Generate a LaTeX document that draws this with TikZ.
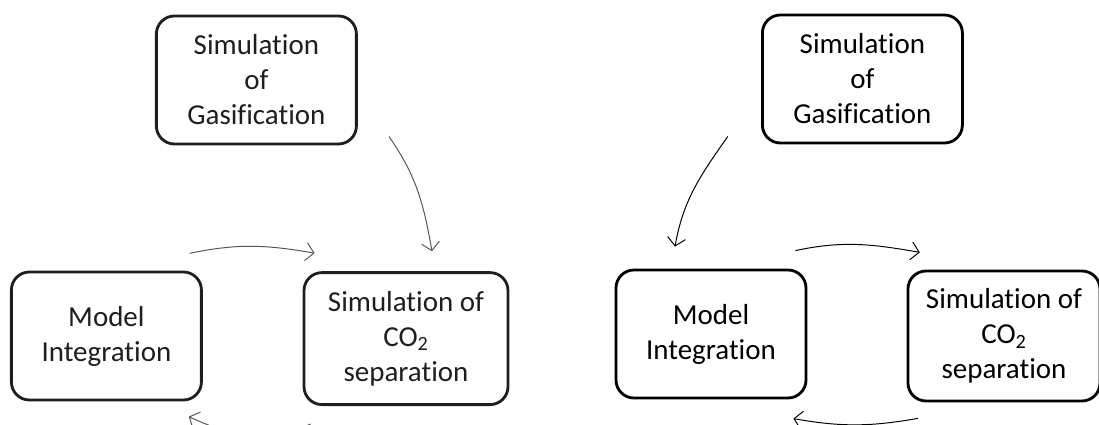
\documentclass[tikz,border=0pt]{standalone}
\usepackage{fontspec}
\setmainfont{Carlito}[Ligatures=NoCommon]
\usetikzlibrary{arrows.meta, positioning}
\definecolor{oldgray}{RGB}{30, 30, 30}

\begin{document}
\begin{tikzpicture}[
    box/.style={rectangle, rounded corners=0.45cm, draw, line width=2pt,
                minimum width=5cm, minimum height=3.2cm, align=center,
                font=\fontsize{20.6}{24.9}\selectfont},
    oldbox/.style={box, draw=oldgray, text=oldgray},
    link/.style={-{Straight Barb[length=2mm, width=4.5mm]}, line width=0.7pt}]

    \useasboundingbox (0,0) rectangle (27.475,10.625);

    % Left cycle
    \node[oldbox] (gasL) at (6.41, 8.625) {Simulation\\of\\Gasification};
    \node[oldbox, minimum width=4.75cm] (modelL) at (2.66, 2.225) {Model\\Integration};
    \node[oldbox, minimum width=5.1cm, minimum height=3.3cm] (co2L) at (10.15, 2.16) {Simulation of\\CO\textsubscript{2}\\separation};

    \draw[link, draw=oldgray!75] ([shift={(0.78,0.22)}]gasL.south east) to[out=-55, in=100] ([shift={(0.65,0.5)}]co2L.north);
    \draw[link, draw=oldgray!75] ([shift={(-0.33,0.43)}]modelL.north east) to[out=12, in=170] ([shift={(0.3,0.45)}]co2L.north west);
    \draw[link, draw=oldgray!75] ([shift={(0.2,-0.45)}]co2L.south west) to[out=205, in=-25] ([shift={(-0.35,-0.38)}]modelL.south east);

    % Right cycle
    \node[box] (gasR) at (21.56, 8.65) {Simulation\\of\\Gasification};
    \node[box, minimum width=4.75cm] (modelR) at (17.775, 2.275) {Model\\Integration};
    \node[box, minimum width=4.8cm, minimum height=3.25cm] (co2R) at (25.1, 2.225) {Simulation of\\CO\textsubscript{2}\\separation};

    \draw[link] ([shift={(-0.83,0.2)}]gasR.south west) to[out=235, in=80] ([shift={(-0.9,0.55)}]modelR.north);
    \draw[link] ([shift={(-0.3,0.45)}]modelR.north east) to[out=12, in=170] ([shift={(0.33,0.43)}]co2R.north west);
    \draw[link] ([shift={(0.28,-0.4)}]co2R.south west) to[out=190, in=-10] ([shift={(-0.35,-0.48)}]modelR.south east);
\end{tikzpicture}
\end{document}
